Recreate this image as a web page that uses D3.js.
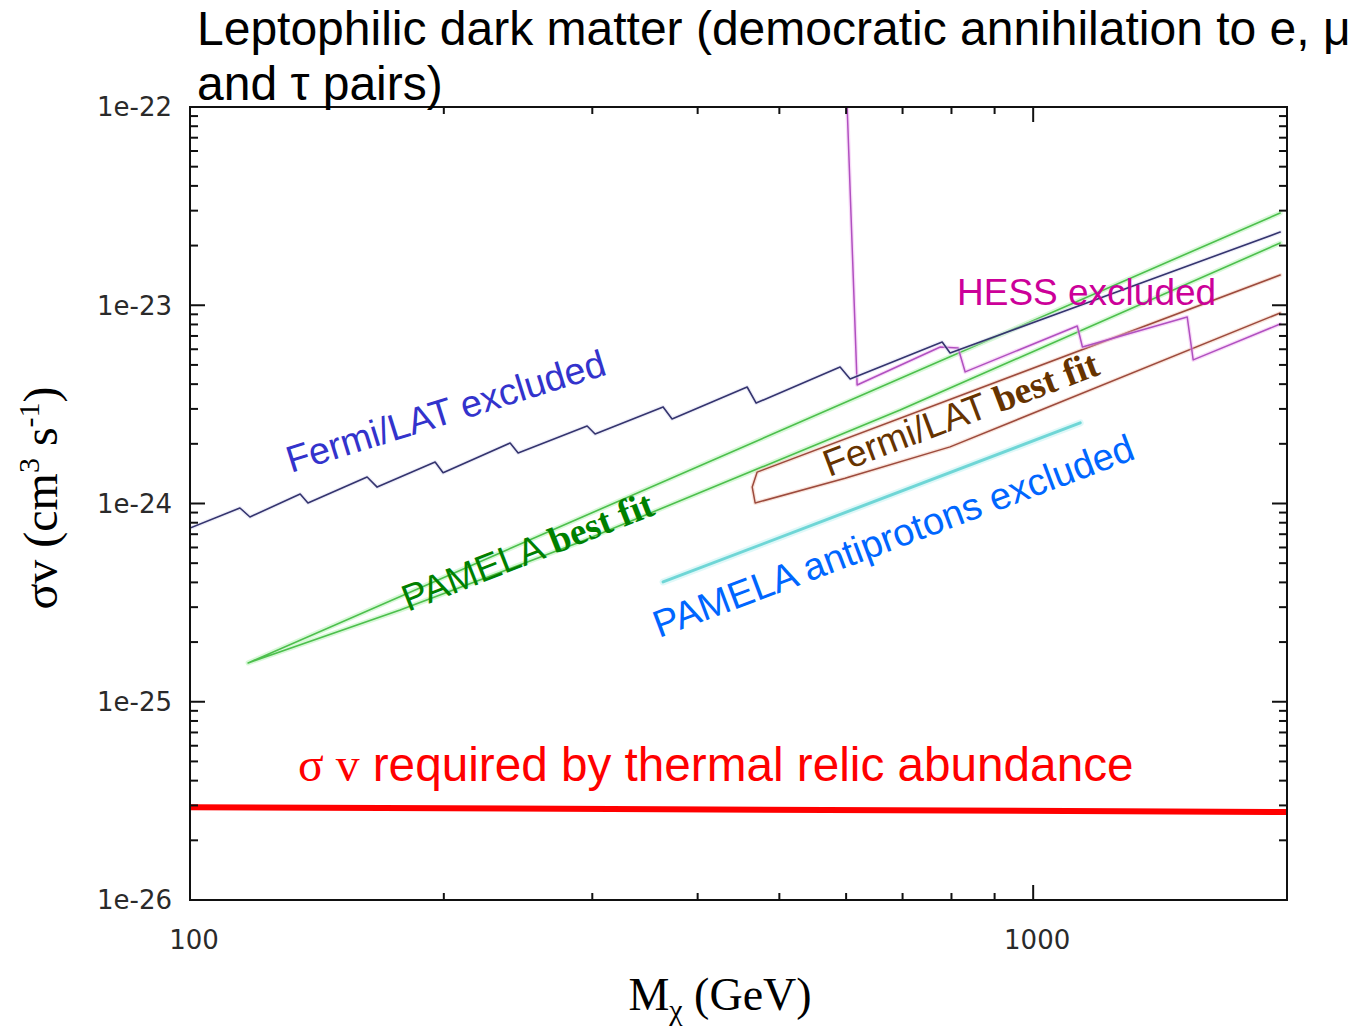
<!DOCTYPE html>
<html><head><meta charset="utf-8">
<script src="https://cdn.jsdelivr.net/npm/d3@7"></script>
<style>body{margin:0;background:#fff}svg{display:block}</style>
</head><body>
<svg id="c" width="1370" height="1029"></svg>
<script>
// ---- data (mass in GeV, sigma v in cm^3 s^-1) ----
const fermiExclM  = [100, 114.6, 117.8, 135.1, 138.0, 162.2, 166.7, 195.3, 199.6, 239.7, 245, 295.8, 302.3, 364, 373, 457.9, 469.3, 590.2, 606.6, 780, 797, 1963];
const fermiExclSv = [7.52e-25, 9.49e-25, 8.55e-25, 1.117e-24, 1.006e-24, 1.36e-24, 1.21e-24, 1.62e-24, 1.43e-24, 2.02e-24, 1.80e-24, 2.46e-24, 2.24e-24, 3.07e-24, 2.67e-24, 3.87e-24, 3.21e-24, 4.88e-24, 4.25e-24, 6.53e-24, 5.74e-24, 2.34e-23];
const hessM  = [601.7, 618.3, 775.9, 814.7, 830.5, 1128, 1144, 1523, 1548, 1963];
const hessSv = [1e-22, 3.96e-24, 6.16e-24, 6.09e-24, 4.61e-24, 7.86e-24, 6.16e-24, 8.72e-24, 5.30e-24, 8.04e-24];
const pamelaFitM  = [1963, 290.1, 117.2, 177.5, 290.1, 695.3, 1963];
const pamelaFitSv = [2.92e-23, 8.45e-25, 1.57e-25, 2.90e-25, 6.39e-25, 2.96e-24, 2.06e-23];
const fermiFitM  = [1963, 470.6, 464.3, 468, 598.4, 605, 797, 1963];
const fermiFitSv = [1.42e-23, 1.44e-24, 1.21e-24, 1.006e-24, 1.34e-24, 1.36e-24, 1.93e-24, 9.14e-24];
const pbarM  = [364, 1137];
const pbarSv = [4.02e-25, 2.55e-24];
const thermalM  = [100, 2000];
const thermalSv = [2.94e-26, 2.78e-26];
const yTickVals = [1e-22, 1e-23, 1e-24, 1e-25, 1e-26];
const yTickLabels = ["1e-22", "1e-23", "1e-24", "1e-25", "1e-26"];
const xTickVals = [100, 1000];
const xTickLabels = ["100", "1000"];

// ---- layout ----
const svg = d3.select("#c");
const L = 190, R = 1287, T = 107, B = 900;
const x = d3.scaleLog().domain([100, 2000]).range([L, R]);
const y = d3.scaleLog().domain([1e-26, 1e-22]).range([B, T]);

svg.append("clipPath").attr("id", "clip").append("rect")
  .attr("x", L).attr("y", T).attr("width", R - L).attr("height", B - T);
const plot = svg.append("g").attr("clip-path", "url(#clip)");

const zip = (a, b) => a.map((v, i) => [v, b[i]]);
const line = d3.line().x(d => x(d[0])).y(d => y(d[1]));

function drawLine(m, s, color, width, halo, haloW) {
  const data = zip(m, s);
  if (halo) plot.append("path").attr("d", line(data)).attr("fill", "none")
    .attr("stroke", halo).attr("stroke-width", haloW).attr("stroke-linejoin", "round")
    .attr("stroke-linecap", "round").attr("opacity", 0.45);
  plot.append("path").attr("d", line(data)).attr("fill", "none")
    .attr("stroke", color).attr("stroke-width", width).attr("stroke-linejoin", "round")
    .attr("stroke-linecap", "round");
}

drawLine(pbarM, pbarSv, "#6fd6d6", 3, "#b8f0f0", 7);
drawLine(pamelaFitM, pamelaFitSv, "#4cbf4c", 1.6, "#a8f0a8", 5);
drawLine(fermiFitM, fermiFitSv, "#9c4a3c", 1.5, "#f0c0b0", 4);
drawLine(hessM, hessSv, "#b050c0", 1.5, "#f0b0f0", 4);
drawLine(fermiExclM, fermiExclSv, "#34346e", 1.6, "#d8d8f0", 4);
drawLine(thermalM, thermalSv, "#ff0000", 6, null, 0);

// ---- axes frame & ticks ----
const ax = svg.append("g").attr("stroke", "#111").attr("stroke-width", 2);
ax.append("rect").attr("x", L).attr("y", T).attr("width", R - L).attr("height", B - T).attr("fill", "none");

const yMinor = [];
for (let e = -26; e < -22; e++) for (let k = 2; k <= 9; k++) yMinor.push(k * Math.pow(10, e));
yMinor.forEach(v => {
  ax.append("line").attr("x1", L).attr("x2", L + 8).attr("y1", y(v)).attr("y2", y(v));
  ax.append("line").attr("x1", R).attr("x2", R - 8).attr("y1", y(v)).attr("y2", y(v));
});
yTickVals.forEach(v => {
  ax.append("line").attr("x1", L).attr("x2", L + 15).attr("y1", y(v)).attr("y2", y(v));
  ax.append("line").attr("x1", R).attr("x2", R - 15).attr("y1", y(v)).attr("y2", y(v));
});
const xMinor = [200, 300, 400, 500, 600, 700, 800, 900];
xMinor.forEach(v => {
  ax.append("line").attr("x1", x(v)).attr("x2", x(v)).attr("y1", B).attr("y2", B - 7);
  ax.append("line").attr("x1", x(v)).attr("x2", x(v)).attr("y1", T).attr("y2", T + 7);
});
xTickVals.forEach(v => {
  ax.append("line").attr("x1", x(v)).attr("x2", x(v)).attr("y1", B).attr("y2", B - 15);
  ax.append("line").attr("x1", x(v)).attr("x2", x(v)).attr("y1", T).attr("y2", T + 15);
});

const tickFont = "'DejaVu Sans', sans-serif";
yTickVals.forEach((v, i) => {
  svg.append("text").attr("x", 172).attr("y", y(v)).attr("dy", "0.36em")
    .attr("text-anchor", "end").attr("font-family", tickFont).attr("font-size", 26)
    .attr("fill", "#2a2a2a").text(yTickLabels[i]);
});
xTickVals.forEach((v, i) => {
  svg.append("text").attr("x", x(v) + 4).attr("y", 949)
    .attr("text-anchor", "middle").attr("font-family", tickFont).attr("font-size", 26)
    .attr("fill", "#2a2a2a").text(xTickLabels[i]);
});

// ---- titles ----
const sans = "'Liberation Sans', Arial, sans-serif";
const serif = "'Liberation Serif', 'Times New Roman', serif";
svg.append("text").attr("x", 197).attr("y", 45).attr("font-family", sans).attr("font-size", 48)
  .attr("fill", "#000").text("Leptophilic dark matter (democratic annihilation to e, μ");
svg.append("text").attr("x", 197).attr("y", 100).attr("font-family", sans).attr("font-size", 48)
  .attr("fill", "#000").text("and τ pairs)");

// x label
const xl = svg.append("text").attr("x", 720).attr("y", 1010).attr("text-anchor", "middle")
  .attr("font-family", serif).attr("font-size", 46).attr("fill", "#000");
xl.append("tspan").text("M");
xl.append("tspan").attr("font-size", 30).attr("dy", 10).text("χ");
xl.append("tspan").attr("dy", -10).text(" (GeV)");

// y label
const yl = svg.append("text").attr("transform", "translate(57,498) rotate(-90)").attr("text-anchor", "middle")
  .attr("font-family", serif).attr("font-size", 48).attr("fill", "#000");
yl.append("tspan").text("σv (cm");
yl.append("tspan").attr("font-size", 30).attr("dy", -18).text("3");
yl.append("tspan").attr("dy", 18).text(" s");
yl.append("tspan").attr("font-size", 30).attr("dy", -18).text("-1");
yl.append("tspan").attr("dy", 18).text(")");

// ---- curve labels ----
function label(px, py, ang, color, size, parts) {
  const t = svg.append("text").attr("transform", `translate(${px},${py}) rotate(${ang})`)
    .attr("fill", color).attr("font-size", size);
  parts.forEach(p => t.append("tspan").attr("font-family", p[1] ? serif : sans)
    .attr("font-weight", p[1] ? "bold" : "normal").text(p[0]));
}
label(957, 305, 0, "#cc0099", 37, [["HESS excluded", false]]);
label(291, 473, -17.3, "#3333cc", 37.5, [["Fermi/LAT excluded", false]]);
label(408, 612, -21.5, "#008000", 37.5, [["PAMELA ", false], ["best fit", true]]);
label(829, 477, -20.7, "#663300", 37.5, [["Fermi/LAT ", false], ["best fit", true]]);
label(659, 638, -20.6, "#0066ff", 38, [["PAMELA antiprotons excluded", false]]);

const th = svg.append("text").attr("x", 298).attr("y", 781).attr("fill", "#ff0000").attr("font-size", 47.7);
th.append("tspan").attr("font-family", serif).text("σ v");
th.append("tspan").attr("font-family", sans).text(" required by thermal relic abundance");
</script>
</body></html>
